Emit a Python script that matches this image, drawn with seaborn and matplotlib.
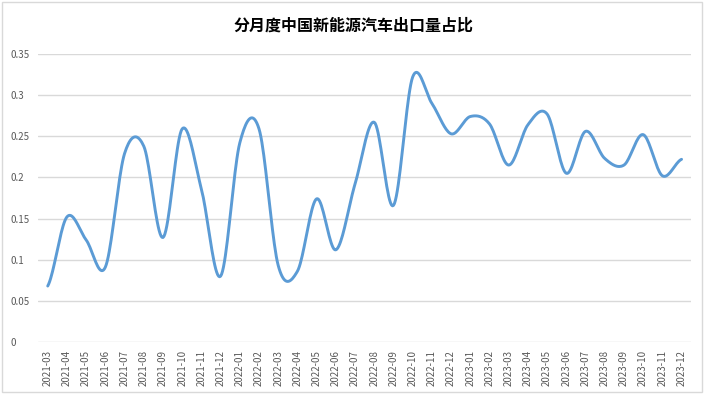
import numpy as np
import pandas as pd
import matplotlib
matplotlib.use("Agg")
import matplotlib.pyplot as plt
import seaborn as sns
from matplotlib.patches import Rectangle

months = ["2021-03", "2021-04", "2021-05", "2021-06", "2021-07", "2021-08", "2021-09",
          "2021-10", "2021-11", "2021-12", "2022-01", "2022-02", "2022-03", "2022-04",
          "2022-05", "2022-06", "2022-07", "2022-08", "2022-09", "2022-10", "2022-11",
          "2022-12", "2023-01", "2023-02", "2023-03", "2023-04", "2023-05", "2023-06",
          "2023-07", "2023-08", "2023-09", "2023-10", "2023-11", "2023-12"]
share = [0.068, 0.152, 0.124, 0.091, 0.229, 0.238, 0.127, 0.259, 0.186, 0.080,
         0.242, 0.259, 0.093, 0.086, 0.174, 0.112, 0.192, 0.267, 0.166, 0.322,
         0.290, 0.253, 0.274, 0.265, 0.215, 0.264, 0.277, 0.205, 0.256, 0.223,
         0.215, 0.252, 0.202, 0.222]

sns.set_style("white")
plt.rcParams['font.family'] = ['Noto Sans CJK SC', 'DejaVu Sans']


def smooth(y, n=20):
    # Catmull-Rom curve through the points, like Excel's smoothed line
    y = np.asarray(y, dtype=float)
    p = np.concatenate([[y[0]], y, [y[-1]]])
    xs, ys = [], []
    for i in range(len(y) - 1):
        p0, p1, p2, p3 = p[i], p[i + 1], p[i + 2], p[i + 3]
        t = np.linspace(0, 1, n, endpoint=False)
        v = 0.5 * ((2 * p1) + (-p0 + p2) * t + (2 * p0 - 5 * p1 + 4 * p2 - p3) * t ** 2
                   + (-p0 + 3 * p1 - 3 * p2 + p3) * t ** 3)
        xs.append(i + t)
        ys.append(v)
    xs.append([len(y) - 1])
    ys.append([y[-1]])
    return np.concatenate(xs), np.concatenate(ys)


sx, sy = smooth(share)
df = pd.DataFrame({"x": sx, "y": sy})

fig = plt.figure(figsize=(7.06, 3.94), dpi=100)
ax = fig.add_axes([0.054, 0.132, 0.925, 0.731])
sns.lineplot(data=df, x="x", y="y", ax=ax, color="#5B9BD5", linewidth=2.1,
             sort=False, estimator=None)

ax.set_xlim(-0.5, len(months) - 0.5)
ax.set_ylim(0, 0.35)
ax.set_yticks(np.arange(0, 0.351, 0.05))
ax.set_yticklabels(["0", "0.05", "0.1", "0.15", "0.2", "0.25", "0.3", "0.35"])
ax.set_xticks(range(len(months)))
ax.set_xticklabels(months, rotation=90)
ax.tick_params(axis="both", labelsize=7, colors="#595959", length=0)
ax.tick_params(axis="x", pad=6)
ax.tick_params(axis="y", pad=20)
ax.grid(axis="y", color="#D9D9D9", linewidth=1)
ax.set_axisbelow(True)
for s in ax.spines.values():
    s.set_visible(False)
ax.set_xlabel("")
ax.set_ylabel("")
for lab in ax.get_yticklabels():
    lab.set_horizontalalignment("left")

fig.text(0.5, 0.935, "分月度中国新能源汽车出口量占比", ha="center", va="center",
         fontsize=11.5, fontweight="bold", color="#000000")
fig.patches.append(Rectangle((0.003, 0.004), 0.992, 0.99, transform=fig.transFigure,
                             fill=False, edgecolor="#D9D9D9", linewidth=1))

fig.savefig("out.png", dpi=100)
